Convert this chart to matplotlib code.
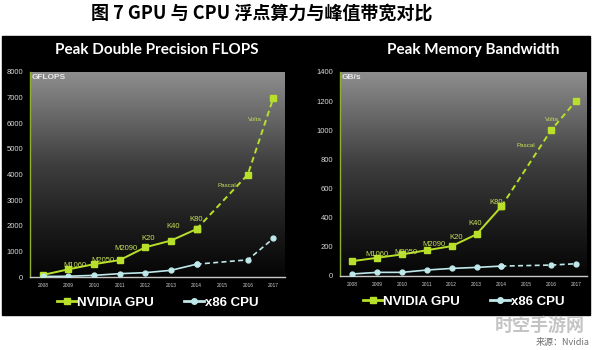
import numpy as np
import matplotlib.pyplot as plt
from matplotlib.colors import LinearSegmentedColormap
from matplotlib.patches import Rectangle
from matplotlib.lines import Line2D

plt.rcParams['font.family'] = ['Liberation Sans', 'Noto Sans CJK SC', 'DejaVu Sans']

# 数据
years = [2008, 2009, 2010, 2011, 2012, 2013, 2014, 2016, 2017]
gpu_flops = [80, 300, 500, 660, 1160, 1420, 1870, 4000, 7000]
cpu_flops = [20, 30, 65, 130, 170, 260, 500, 670, 1510]
gpu_bw = [102, 125, 148, 177, 205, 286, 477, 1000, 1200]
cpu_bw = [14, 25, 25, 41, 52, 59, 68, 75, 84]
xticks = list(range(2008, 2018))

names = ['M1060', 'M2050', 'M2090', 'K20', 'K40', 'K80', 'Pascal', 'Volta']
flops_lbl_x = [2009.26, 2010.36, 2011.23, 2012.1, 2013.08, 2014.0, 2015.2, 2016.27]
flops_lbl_y = [450, 630, 1120, 1490, 1970, 2250, 3570, 6145]
bw_lbl_x = [2009.0, 2010.17, 2011.3, 2012.18, 2012.94, 2013.78, 2014.99, 2016.03]
bw_lbl_y = [150, 161, 216, 261, 359, 502, 896, 1074]

gpu_c = '#b8e02a'
cpu_c = '#bfe8ea'
lbl_c = '#c6e05a'

fig = plt.figure(figsize=(5.96, 3.5), dpi=100)
W, H = 596, 350
fig.patches.append(Rectangle((2 / W, 1 - 315 / H), 588 / W, 279 / H,
                             transform=fig.transFigure, color='black', zorder=-10))

fig.text(262 / W, 1 - 13 / H, '图 7 GPU 与 CPU 浮点算力与峰值带宽对比',
         ha='center', va='center', fontsize=13, fontweight='bold',
         family=['Noto Sans CJK SC', 'DejaVu Sans'])

cmap = LinearSegmentedColormap.from_list(
    'bg', [(0, '#050505'), (0.25, '#1c1c1c'), (0.55, '#3e3e3e'), (1, '#8e8e8e')])


def panel(rect, title, title_x, gpu, cpu, ymax, ystep, unit, lx, ly, lbl_fs):
    ax = fig.add_axes(rect)
    ax.set_facecolor('black')
    grad = np.linspace(0, 1, 256).reshape(-1, 1)
    ax.imshow(grad, extent=[2007.5, 2017.45, 0, ymax], origin='lower',
              aspect='auto', cmap=cmap, zorder=0)
    ax.set_xlim(2007.5, 2017.45)
    ax.set_ylim(0, ymax)

    # 实线到 2014，之后虚线
    ax.plot(years[:7], gpu[:7], color=gpu_c, lw=1.4, marker='s', ms=4.5, zorder=3)
    ax.plot(years[6:], gpu[6:], color=gpu_c, lw=1.4, ls=(0, (3, 2)), marker='s', ms=4.5, zorder=3)
    ax.plot(years[:7], cpu[:7], color=cpu_c, lw=1.2, marker='o', ms=3.5, zorder=3)
    ax.plot(years[6:], cpu[6:], color=cpu_c, lw=1.2, ls=(0, (3, 2)), marker='o', ms=3.5, zorder=3)

    for i, n in enumerate(names):
        fs = lbl_fs if i < 6 else lbl_fs - 1
        ax.text(lx[i], ly[i], n, color=lbl_c, fontsize=fs, ha='center', va='center', zorder=4)

    ax.text(2007.55, ymax * 0.99, unit, color='#e8e8e8', fontsize=6, fontweight='bold',
            ha='left', va='top', zorder=4)

    ax.set_xticks(xticks)
    ax.set_yticks(np.arange(0, ymax + 1, ystep))
    ax.tick_params(axis='x', length=0, labelsize=3.5, labelcolor='#cfcfcf', pad=4)
    ax.tick_params(axis='y', length=0, labelsize=5.5, labelcolor='#d8d8d8', pad=5)
    for s in ['top', 'right']:
        ax.spines[s].set_visible(False)
    ax.spines['left'].set_color('#8fb030')
    ax.spines['left'].set_linewidth(1)
    ax.spines['bottom'].set_color('#c8c8c8')
    ax.spines['bottom'].set_linewidth(1)

    fig.text(title_x / W, 1 - 50 / H, title, color='white', fontsize=11,
             fontweight='bold', ha='center', va='center', family=['Lato', 'DejaVu Sans'])

    handles = [Line2D([], [], color=gpu_c, lw=2, marker='s', ms=5),
               Line2D([], [], color=cpu_c, lw=2, marker='o', ms=4)]
    ax.legend(handles, ['NVIDIA GPU', 'x86 CPU'], loc='center',
              bbox_to_anchor=(0.5, -0.125), ncol=2, frameon=False,
              handlelength=1.5, handletextpad=0.05, columnspacing=2.3,
              prop={'size': 9.5, 'weight': 'bold'}, labelcolor='white')
    return ax


panel([30 / W, 1 - 277 / H, 255 / W, 205 / H], 'Peak Double Precision FLOPS', 157,
      gpu_flops, cpu_flops, 8000, 1000, 'GFLOPS', flops_lbl_x, flops_lbl_y, 5.5)
panel([340 / W, 1 - 276 / H, 247 / W, 204 / H], 'Peak Memory Bandwidth', 473,
      gpu_bw, cpu_bw, 1400, 200, 'GB/s', bw_lbl_x, bw_lbl_y, 5.5)

fig.text(540 / W, 1 - 325 / H, '时空手游网', color='#c4c4c4', fontsize=13,
         fontweight='bold', ha='center', va='center',
         family=['Noto Sans CJK SC', 'DejaVu Sans'])
fig.text(590 / W, 1 - 343 / H, '来源：Nvidia', color='#707070', fontsize=6.5,
         style='italic', ha='right', va='center',
         family=['Noto Sans CJK SC', 'DejaVu Sans'])

fig.savefig('out.png', dpi=100, facecolor='white')
